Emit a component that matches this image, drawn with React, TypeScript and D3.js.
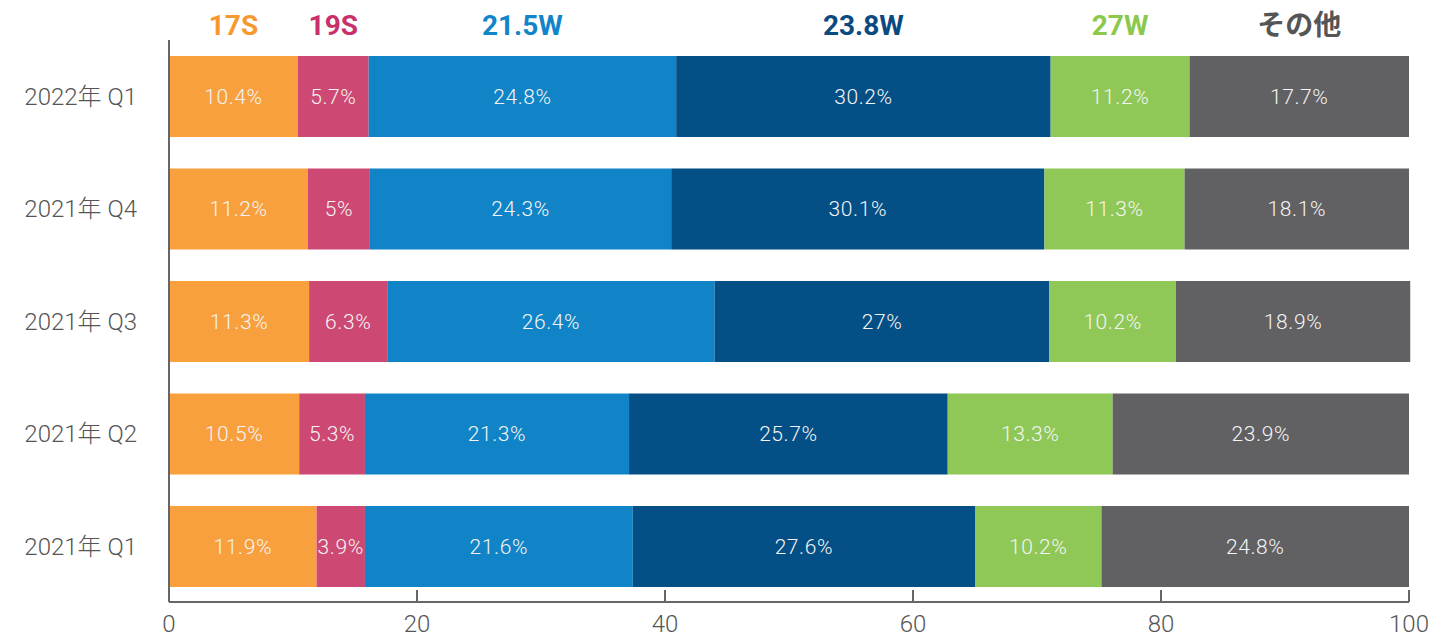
import React from 'react';
import * as d3 from 'd3';

const quarters = ['2022年 Q1', '2021年 Q4', '2021年 Q3', '2021年 Q2', '2021年 Q1'];
const seriesNames = ['17S', '19S', '21.5W', '23.8W', '27W', 'その他'];
const s17S = [10.4, 11.2, 11.3, 10.5, 11.9];
const s19S = [5.7, 5, 6.3, 5.3, 3.9];
const s215W = [24.8, 24.3, 26.4, 21.3, 21.6];
const s238W = [30.2, 30.1, 27, 25.7, 27.6];
const s27W = [11.2, 11.3, 10.2, 13.3, 10.2];
const sOther = [17.7, 18.1, 18.9, 23.9, 24.8];
const xTicks = [0, 20, 40, 60, 80, 100];

const barColors = ['#F8A03E', '#CD4872', '#1084C6', '#034F86', '#8FC856', '#616063'];
const legendColors = ['#F7982E', '#C9306B', '#1185C8', '#0B4A80', '#8CC84B', '#555555'];

const W = 1430;
const H = 642;
const margin = { left: 169, right: 21, top: 56, bottom: 55 };
const FONT = 'Roboto, "Noto Sans CJK JP", sans-serif';

export default function App() {
  const seriesValues = [s17S, s19S, s215W, s238W, s27W, sOther];
  const rows = quarters.map((q, i) => {
    const row: Record<string, number | string> = { quarter: q };
    seriesNames.forEach((s, j) => (row[s] = seriesValues[j][i]));
    return row;
  });
  const stacked = d3.stack<Record<string, number | string>>().keys(seriesNames)(rows as any);

  const x = d3.scaleLinear().domain([0, 100]).range([margin.left, W - margin.right]);
  const y = d3
    .scaleBand<string>()
    .domain(quarters)
    .range([margin.top, 587])
    .paddingInner(0.28)
    .paddingOuter(0);

  const axisY = 602;

  return (
    <svg width={W} height={H} style={{ position: 'absolute', left: 0, top: 0 }} fontFamily={FONT}>
      {stacked.map((layer, j) => (
        <g key={seriesNames[j]}>
          {layer.map((d, i) => {
            const x0 = x(d[0]);
            const x1 = x(d[1]);
            const yy = y(quarters[i]) as number;
            return (
              <g key={i}>
                <rect x={x0} y={yy} width={x1 - x0} height={y.bandwidth()} fill={barColors[j]} />
                <text
                  x={(x0 + x1) / 2}
                  y={yy + y.bandwidth() / 2}
                  dy="0.35em"
                  textAnchor="middle"
                  fontSize={21}
                  fontWeight={300}
                  letterSpacing={0.6}
                  fill="#F4F4F4"
                >
                  {`${seriesValues[j][i]}%`}
                </text>
              </g>
            );
          })}
          <text
            x={(x(layer[0][0]) + x(layer[0][1])) / 2}
            y={25}
            dy="0.35em"
            textAnchor="middle"
            fontSize={28}
            fontWeight={700}
            fill={legendColors[j]}
          >
            {seriesNames[j]}
          </text>
        </g>
      ))}

      {quarters.map((q) => (
        <text
          key={q}
          x={137}
          y={(y(q) as number) + y.bandwidth() / 2}
          dy="0.35em"
          textAnchor="end"
          fontSize={24}
          fontWeight={300}
          fill="#555"
        >
          {q}
        </text>
      ))}

      <line x1={x(0)} x2={x(0)} y1={40} y2={axisY} stroke="#666" strokeWidth={2} />
      <line x1={x(0)} x2={x(100)} y1={axisY} y2={axisY} stroke="#666" strokeWidth={2} />
      {xTicks.map((t) => (
        <g key={t}>
          <line x1={x(t)} x2={x(t)} y1={axisY} y2={axisY - 12} stroke="#666" strokeWidth={2} />
          <text x={x(t)} y={624} dy="0.35em" textAnchor="middle" fontSize={24} fontWeight={300} fill="#555">
            {t}
          </text>
        </g>
      ))}
    </svg>
  );
}
